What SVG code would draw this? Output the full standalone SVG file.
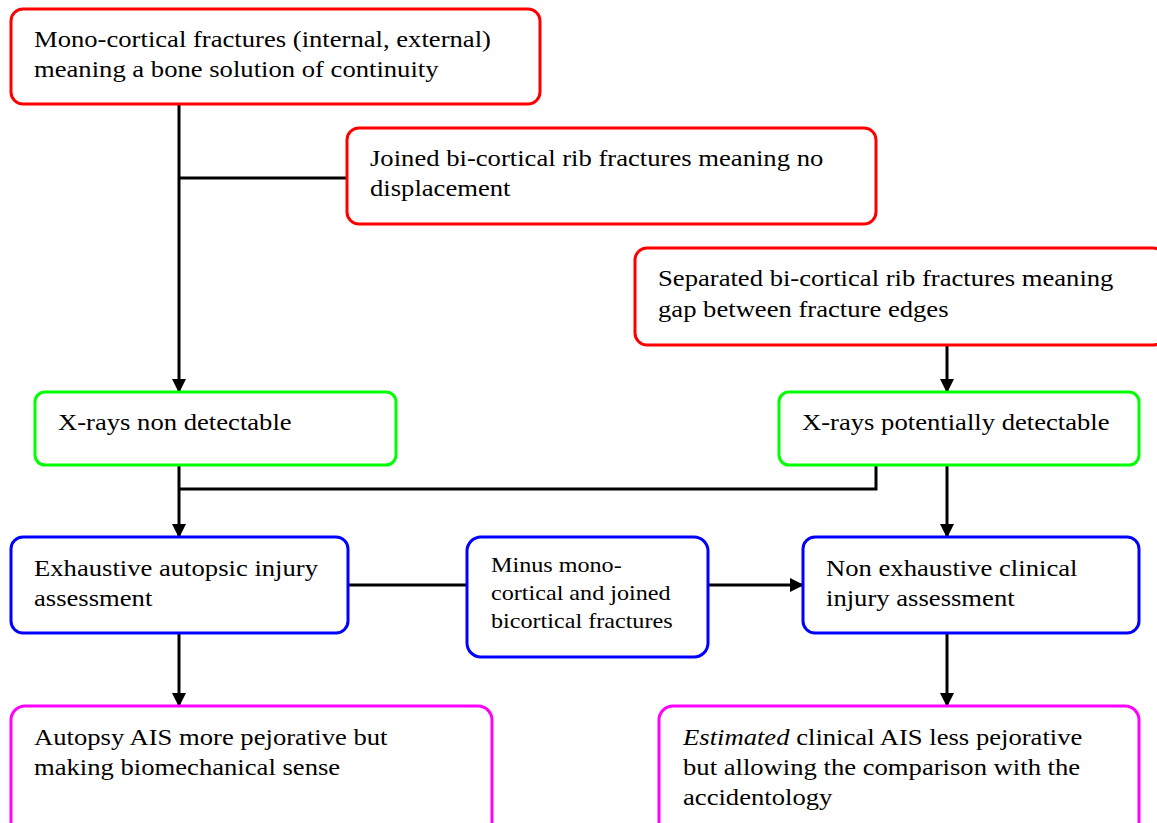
<svg xmlns="http://www.w3.org/2000/svg" width="1157" height="823" viewBox="0 0 1157 823">
<style>
.box{fill:#fff;stroke-width:3}
.red{stroke:#ff0000}
.green{stroke:#00ff00}
.blue{stroke:#0000ff}
.mag{stroke:#ff00ff}
text{font-family:"Liberation Serif","Times New Roman",serif;font-size:24px;fill:#000}
.small{font-size:21px}
.conn{fill:none;stroke:#000;stroke-width:3}
</style>
<defs>
<marker id="arr" markerWidth="14" markerHeight="14" refX="13" refY="7" orient="auto" markerUnits="userSpaceOnUse">
<path d="M0,0 L14,7 L0,14 Z" fill="#000"/>
</marker>
</defs>
<rect width="1157" height="823" fill="#fff"/>
<g id="connectors">
<path class="conn" d="M179,104 V392" marker-end="url(#arr)"/>
<path class="conn" d="M179,178 H346"/>
<path class="conn" d="M947,345 V392" marker-end="url(#arr)"/>
<path class="conn" d="M179,465 V537" marker-end="url(#arr)"/>
<path class="conn" d="M179,489 H876 V465"/>
<path class="conn" d="M947,465 V537" marker-end="url(#arr)"/>
<path class="conn" d="M348,585 H467"/>
<path class="conn" d="M708,585 H803" marker-end="url(#arr)"/>
<path class="conn" d="M179,633 V706" marker-end="url(#arr)"/>
<path class="conn" d="M947,633 V706" marker-end="url(#arr)"/>
</g>
<g id="n1">
<rect class="box red" x="11" y="9" width="529" height="95" rx="12"/>
<text transform="matrix(1.11 0 0 1 34 47)">Mono-cortical fractures (internal, external)</text>
<text transform="matrix(1.11 0 0 1 34 77)">meaning a bone solution of continuity</text>
</g>
<g id="n2">
<rect class="box red" x="347" y="128" width="529" height="96" rx="12"/>
<text transform="matrix(1.11 0 0 1 370 166)">Joined bi-cortical rib fractures meaning no</text>
<text transform="matrix(1.11 0 0 1 370 196)">displacement</text>
</g>
<g id="n3">
<rect class="box red" x="635" y="248" width="530" height="97" rx="12"/>
<text transform="matrix(1.11 0 0 1 658 286)">Separated bi-cortical rib fractures meaning</text>
<text transform="matrix(1.11 0 0 1 658 317)">gap between fracture edges</text>
</g>
<g id="n4">
<rect class="box green" x="35" y="392" width="361" height="73" rx="10"/>
<text transform="matrix(1.11 0 0 1 58 430)">X-rays non detectable</text>
</g>
<g id="n5">
<rect class="box green" x="779" y="392" width="360" height="73" rx="10"/>
<text transform="matrix(1.11 0 0 1 802 430)">X-rays potentially detectable</text>
</g>
<g id="n6">
<rect class="box blue" x="11" y="537" width="337" height="96" rx="12"/>
<text transform="matrix(1.11 0 0 1 34 576)">Exhaustive autopsic injury</text>
<text transform="matrix(1.11 0 0 1 34 606)">assessment</text>
</g>
<g id="n7">
<rect class="box blue" x="467" y="537" width="241" height="120" rx="14"/>
<text class="small" transform="matrix(1.15 0 0 1 491 572)">Minus mono-</text>
<text class="small" transform="matrix(1.15 0 0 1 491 600)">cortical and joined</text>
<text class="small" transform="matrix(1.15 0 0 1 491 628)">bicortical fractures</text>
</g>
<g id="n8">
<rect class="box blue" x="803" y="537" width="336" height="96" rx="12"/>
<text transform="matrix(1.11 0 0 1 826 576)">Non exhaustive clinical</text>
<text transform="matrix(1.11 0 0 1 826 606)">injury assessment</text>
</g>
<g id="n9">
<rect class="box mag" x="11" y="706" width="481" height="130" rx="14"/>
<text transform="matrix(1.11 0 0 1 34 745)">Autopsy AIS more pejorative but</text>
<text transform="matrix(1.11 0 0 1 34 775)">making biomechanical sense</text>
</g>
<g id="n10">
<rect class="box mag" x="659" y="706" width="480" height="130" rx="14"/>
<text transform="matrix(1.11 0 0 1 683 745)"><tspan font-style="italic">Estimated</tspan> clinical AIS less pejorative</text>
<text transform="matrix(1.11 0 0 1 683 775)">but allowing the comparison with the</text>
<text transform="matrix(1.11 0 0 1 683 805)">accidentology</text>
</g>
</svg>
